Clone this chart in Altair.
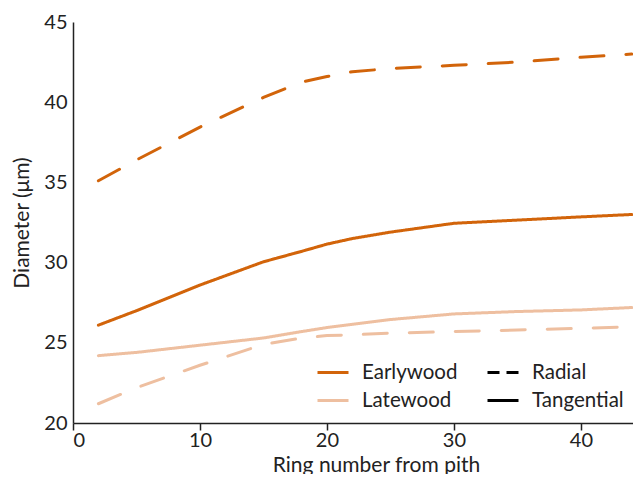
import altair as alt
import pandas as pd

ring = [2, 5, 10, 15, 18, 20, 22, 25, 30, 35, 40, 44]
early_radial = [35.1, 36.4, 38.45, 40.3, 41.25, 41.6, 41.9, 42.1, 42.3, 42.5, 42.8, 43.0]
early_tang = [26.1, 27.0, 28.6, 30.05, 30.7, 31.15, 31.5, 31.9, 32.45, 32.65, 32.85, 33.0]
late_radial = [21.2, 22.2, 23.6, 24.9, 25.3, 25.45, 25.5, 25.6, 25.7, 25.8, 25.9, 26.0]
late_tang = [24.2, 24.4, 24.85, 25.3, 25.7, 25.95, 26.15, 26.45, 26.8, 26.95, 27.05, 27.2]

wood = ["Earlywood", "Latewood"]
direction = ["Radial", "Tangential"]
colors = ["#D2640A", "#EEBFA0"]

rows = []
for w, d, vals in [("Earlywood", "Radial", early_radial),
                   ("Earlywood", "Tangential", early_tang),
                   ("Latewood", "Radial", late_radial),
                   ("Latewood", "Tangential", late_tang)]:
    for r, v in zip(ring, vals):
        rows.append({"ring": r, "diam": v, "wood": w, "dir": d, "series": w + d})
df = pd.DataFrame(rows)

FONT = "Lato"

x_enc = alt.X("ring:Q", scale=alt.Scale(domain=[0, 44.1], nice=False),
              axis=alt.Axis(values=[0, 10, 20, 30, 40], title="Ring number from pith",
                            grid=False, tickSize=7, labelPadding=0,
                            titleX=303, titleY=31))
y_enc = alt.Y("diam:Q", scale=alt.Scale(domain=[20, 45], nice=False, zero=False),
              axis=alt.Axis(values=[20, 25, 30, 35, 40, 45], title="Diameter (μm)",
                            grid=False, ticks=False, labelPadding=6, titlePadding=11))

lines = alt.Chart(df).mark_line(strokeWidth=3, strokeCap="round").encode(
    x=x_enc,
    y=y_enc,
    color=alt.Color("wood:N", scale=alt.Scale(domain=wood, range=colors),
                    legend=alt.Legend(title=None, orient="none", legendX=243, legendY=340,
                                      symbolType="stroke", symbolSize=961,
                                      symbolStrokeWidth=3, clipHeight=21, rowPadding=7,
                                      labelOffset=12, padding=0)),
    strokeDash=alt.StrokeDash("dir:N", scale=alt.Scale(domain=direction, range=[[24, 22], [1, 0]]),
                              legend=None),
    detail="series:N",
    order="ring:Q",
)

# invisible layer that only supplies the line-style legend with short legend dashes
key = alt.Chart(df).mark_line(opacity=0, strokeWidth=3).encode(
    x=x_enc,
    y=y_enc,
    strokeDash=alt.StrokeDash("dir:N", scale=alt.Scale(domain=direction, range=[[12, 7], [1, 0]]),
                              legend=alt.Legend(title=None, orient="none", legendX=413, legendY=340,
                                                symbolType="stroke", symbolSize=961,
                                                symbolStrokeWidth=3, symbolStrokeColor="black",
                                                symbolOpacity=1,
                                                clipHeight=21, rowPadding=7,
                                                labelOffset=12, padding=0)),
    detail="series:N",
    order="ring:Q",
)

chart = alt.layer(lines, key).resolve_scale(strokeDash="independent").resolve_legend(
    strokeDash="independent"
).properties(
    width=560, height=401,
    autosize=alt.AutoSizeParams(type="none"),
    padding={"left": 65, "top": 14, "right": 0, "bottom": 51},
).configure_view(stroke=None).configure_axis(
    labelFont=FONT, titleFont=FONT, labelFontSize=20, titleFontSize=21,
    titleFontWeight="normal", labelColor="#222", titleColor="#222",
    domainColor="#222", tickColor="#222", domainWidth=1.5, tickWidth=1.5,
).configure_legend(
    labelFont=FONT, labelFontSize=20.5, labelColor="#222",
)

chart.save("out.html", embed_options={"renderer": "svg", "actions": False})
